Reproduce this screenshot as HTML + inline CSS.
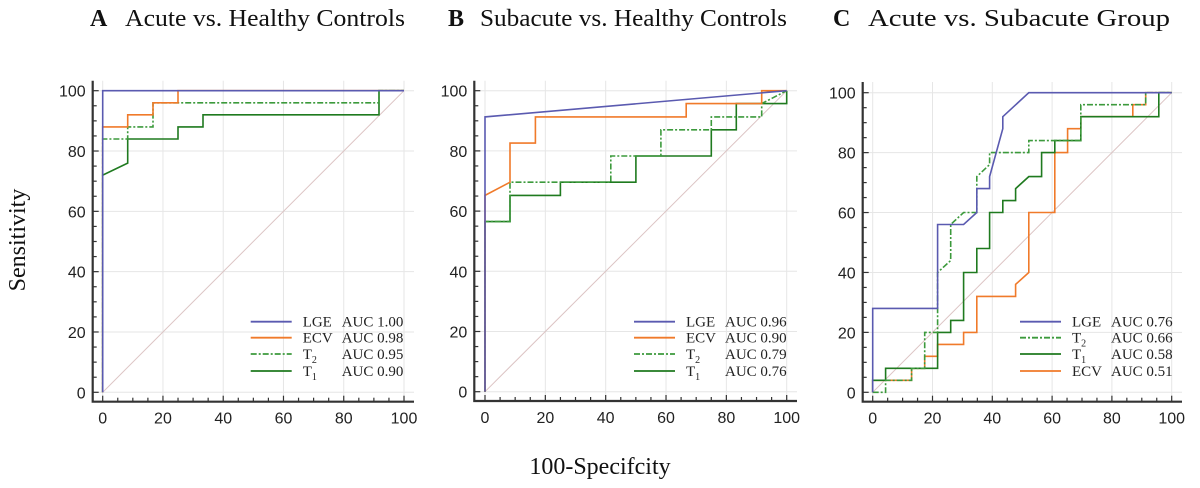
<!DOCTYPE html>
<html><head><meta charset="utf-8"><style>
html,body{margin:0;padding:0;background:#fff;}
svg{display:block;}
.ttl{font-family:"Liberation Serif",serif;font-size:24px;fill:#111;}
.tick{font-family:"Liberation Sans",sans-serif;font-size:16px;fill:#222;}
.leg{font-family:"Liberation Serif",serif;font-size:15px;fill:#222;}
</style></head><body>
<svg id="chart" width="1200" height="488" viewBox="0 0 1200 488" xmlns="http://www.w3.org/2000/svg">
<text class="ttl" x="90" y="26" font-weight="bold">A</text>
<text class="ttl" x="125" y="26" textLength="280" lengthAdjust="spacingAndGlyphs">Acute vs. Healthy Controls</text>
<text class="ttl" x="448" y="26" font-weight="bold">B</text>
<text class="ttl" x="480" y="26" textLength="307" lengthAdjust="spacingAndGlyphs">Subacute vs. Healthy Controls</text>
<text class="ttl" x="833" y="26" font-weight="bold">C</text>
<text class="ttl" x="868" y="26" textLength="302" lengthAdjust="spacingAndGlyphs">Acute vs. Subacute Group</text>
<text class="ttl" transform="translate(25,240) rotate(-90)" text-anchor="middle">Sensitivity</text>
<text class="ttl" x="600" y="474" text-anchor="middle">100-Specifcity</text>
</svg>
<script>
const NS="http://www.w3.org/2000/svg";
const svg=document.getElementById('chart');
const ticks=[0,20,40,60,80,100];
const COLORS={LGE:'#5a5ab0',ECV:'#f07a2a',T2:'#3c9a3c',T1:'#1f7a1f'};
// Panel A data
const aLGEx=[0,0,100], aLGEy=[0,100,100];
const aECVx=[0,0,8.3,8.3,16.7,16.7,25,25,100], aECVy=[0,88,88,92,92,96,96,100,100];
const aT2x=[0,0,8.3,8.3,16.7,16.7,91.7,91.7,100], aT2y=[0,84,84,88,88,96,96,100,100];
const aT1x=[0,0,8.3,8.3,25,25,33.3,33.3,91.7,91.7,100], aT1y=[0,72,76,84,84,88,88,92,92,100,100];
const aLabels=['LGE','ECV','T2','T1'], aAUC=['1.00','0.98','0.95','0.90'];
// Panel B data
const bLGEx=[0,0,100], bLGEy=[0,91.3,100];
const bECVx=[0,0,8.3,8.3,16.7,16.7,66.7,66.7,91.7,91.7,100], bECVy=[0,65.2,69.6,82.6,82.6,91.3,91.3,95.7,95.7,100,100];
const bT2x=[0,0,8.3,8.3,41.7,41.7,58.3,58.3,75,75,91.7,91.7,100], bT2y=[0,56.5,56.5,69.6,69.6,78.3,78.3,87,87,91.3,91.3,95.7,100];
const bT1x=[0,0,8.3,8.3,25,25,50,50,75,75,83.3,83.3,100,100], bT1y=[0,56.5,56.5,65.2,65.2,69.6,69.6,78.3,78.3,87,87,95.7,95.7,100];
const bLabels=['LGE','ECV','T2','T1'], bAUC=['0.96','0.90','0.79','0.76'];
// Panel C data
const cLGEx=[0,0,21.7,21.7,30.4,34.8,34.8,39.1,39.1,43.5,43.5,52.2,100], cLGEy=[0,28,28,56,56,60,68,68,72,88,92,100,100];
const cT2x=[0,4.3,4.3,13,13,17.4,17.4,21.7,21.7,26.1,26.1,30.4,34.8,34.8,39.1,39.1,52.2,52.2,69.6,69.6,91.3,91.3,100], cT2y=[0,0,4,4,8,8,20,20,40,44,56,60,60,72,76,80,80,84,84,96,96,100,100];
const cT1x=[0,0,4.3,4.3,21.7,21.7,26.1,26.1,30.4,30.4,34.8,34.8,39.1,39.1,43.5,43.5,47.8,47.8,52.2,56.5,56.5,60.9,60.9,69.6,69.6,95.7,95.7,100], cT1y=[0,4,4,8,8,20,20,24,24,40,40,48,48,60,60,64,64,68,72,72,80,80,84,84,92,92,100,100];
const cECVx=[0,0,13,13,17.4,17.4,21.7,21.7,30.4,30.4,34.8,34.8,47.8,47.8,52.2,52.2,60.9,60.9,65.2,65.2,69.6,69.6,87,87,91.3,91.3,100], cECVy=[0,4,4,8,8,12,12,16,16,20,20,32,32,36,40,60,60,80,80,88,88,92,92,96,96,100,100];
const cLabels=['LGE','T2','T1','ECV'], cAUC=['0.76','0.66','0.58','0.51'];

function el(tag,attrs,parent){const e=document.createElementNS(NS,tag);for(const k in attrs)e.setAttribute(k,attrs[k]);(parent||svg).appendChild(e);return e;}

function panel(id,geom,series,labels,auc,legX){
  const g=el('g',{});
  
  
  const xs=v=>geom.x0+(geom.x1-geom.x0)*v/100;
  const ys=v=>geom.y0-(geom.y0-geom.y1)*v/100;
  ticks.forEach(t=>{
    const gl=el('line',{x1:xs(t),x2:xs(t),y1:geom.axTop,y2:geom.axY,stroke:'#e6e6e6','stroke-width':1},g);
    
    
    const gh=el('line',{x1:geom.axX,x2:geom.axRight,y1:ys(t),y2:ys(t),stroke:'#e6e6e6','stroke-width':1},g);
    
    
  });
  const d=el('line',{x1:xs(0),y1:ys(0),x2:xs(100),y2:ys(100),stroke:'#dcc4c4','stroke-width':1},g);
  
  
  const ax=el('path',{d:`M${geom.axX},${geom.axTop}V${geom.axY}H${geom.axRight}`,fill:'none',stroke:'#333','stroke-width':2.2},g);
  
  
  for(let t=0;t<=100;t+=5){
    const big=t%20===0;
    const tx=el('line',{x1:xs(t),x2:xs(t),y1:geom.axY,y2:geom.axY-(big?6:4),stroke:'#333','stroke-width':1.2},g);
    
    
    const ty=el('line',{x1:geom.axX,x2:geom.axX+(big?6:4),y1:ys(t),y2:ys(t),stroke:'#333','stroke-width':1.2},g);
    
    
  }
  ticks.forEach(t=>{
    const lx=el('text',{x:xs(t),y:geom.axY+22,'text-anchor':'middle',class:'tick'},g);
    lx.textContent=t;
    
    
    const ly=el('text',{x:geom.axX-7,y:ys(t)+6,'text-anchor':'end',class:'tick'},g);
    ly.textContent=t;
    
    
  });
  series.forEach(s=>{
    const pts=s.x.map((v,i)=>xs(v).toFixed(1)+','+ys(s.y[i]).toFixed(1)).join(' ');
    const attrs={points:pts,fill:'none',stroke:COLORS[s.k],'stroke-width':1.6,'stroke-linejoin':'miter'};
    if(s.k==='T2')attrs['stroke-dasharray']='6,2,2,2';
    const p=el('polyline',attrs,g);
    
    
  });
  const rows=[321.7,337.7,354,371];
  labels.forEach((k,i)=>{
    const y=rows[i];
    const a={x1:legX,x2:legX+41,y1:y,y2:y,stroke:COLORS[k],'stroke-width':1.8};
    if(k==='T2')a['stroke-dasharray']='6,2,2,2';
    const l=el('line',a,g);
    
    
    const t=el('text',{x:legX+52,y:y+5,class:'leg'},g);
    if(k==='T2'||k==='T1'){
      t.textContent='T';
      const sub=el('tspan',{dy:4,'font-size':10},t);
      sub.textContent=k[1];
    } else t.textContent=k;
    
    
    const t2=el('text',{x:legX+91,y:y+5,class:'leg'},g);
    t2.textContent='AUC '+auc[i];
    
    
  });
}
panel('a',{x0:102.7,x1:404,y0:392.3,y1:90.7,axX:92.7,axY:401.7,axTop:80.7,axRight:414},
  [{k:'T1',x:aT1x,y:aT1y},{k:'T2',x:aT2x,y:aT2y},{k:'ECV',x:aECVx,y:aECVy},{k:'LGE',x:aLGEx,y:aLGEy}],aLabels,aAUC,250.7);
panel('b',{x0:485,x1:786.7,y0:391.7,y1:90.7,axX:474.3,axY:401,axTop:80.7,axRight:797},
  [{k:'T1',x:bT1x,y:bT1y},{k:'T2',x:bT2x,y:bT2y},{k:'ECV',x:bECVx,y:bECVy},{k:'LGE',x:bLGEx,y:bLGEy}],bLabels,bAUC,634);
panel('c',{x0:872.7,x1:1171.7,y0:392.3,y1:92.7,axX:862.7,axY:401.7,axTop:82,axRight:1182},
  [{k:'ECV',x:cECVx,y:cECVy},{k:'T1',x:cT1x,y:cT1y},{k:'T2',x:cT2x,y:cT2y},{k:'LGE',x:cLGEx,y:cLGEy}],cLabels,cAUC,1020);
</script>
</body></html>
